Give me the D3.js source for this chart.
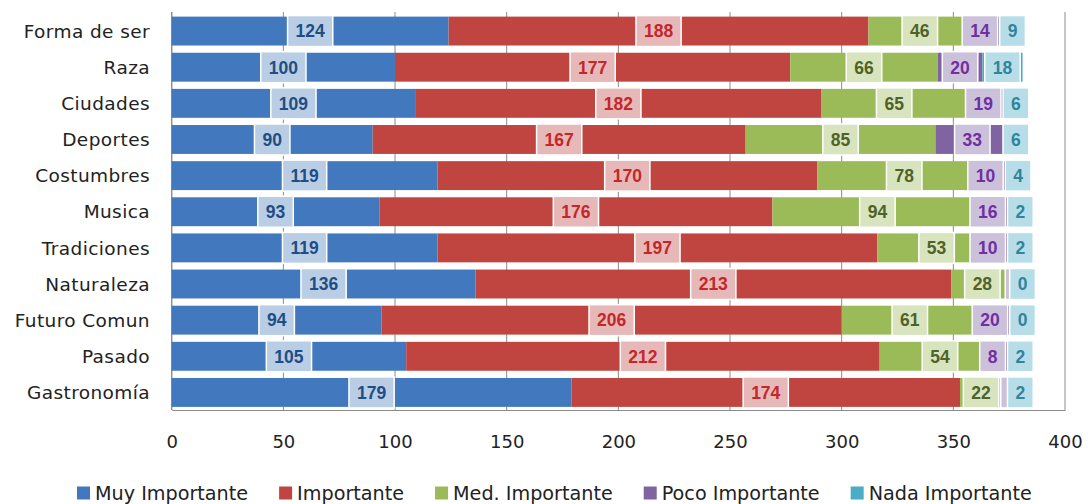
<!DOCTYPE html>
<html>
<head>
<meta charset="utf-8">
<script src="https://cdn.jsdelivr.net/npm/d3@7"></script>
<style>
  html, body { margin: 0; padding: 0; background: #ffffff; }
  svg { display: block; }
</style>
</head>
<body>
<svg id="chart" width="1088" height="504"></svg>
<script>
// Categories (top to bottom)
const categories = ["Forma de ser", "Raza", "Ciudades", "Deportes", "Costumbres", "Musica",
  "Tradiciones", "Naturaleza", "Futuro Comun", "Pasado", "Gastronomía"];

// Series values, one per category
const muyImportante  = [124, 100, 109, 90, 119, 93, 119, 136, 94, 105, 179];
const importante     = [188, 177, 182, 167, 170, 176, 197, 213, 206, 212, 174];
const medImportante  = [46, 66, 65, 85, 78, 94, 53, 28, 61, 54, 22];
const pocoImportante = [14, 20, 19, 33, 10, 16, 10, 4, 20, 8, 4];
const nadaImportante = [9, 18, 6, 6, 4, 2, 2, 0, 0, 2, 2];

const seriesNames = ["Muy Importante", "Importante", "Med. Importante", "Poco Importante", "Nada Importante"];
const xTicks = [0, 50, 100, 150, 200, 250, 300, 350, 400];

// Styling per series: bar fill, label box fill, label text colour
const barColors   = ["#4279be", "#c0443f", "#9bbb59", "#8064a2", "#4bacc6"];
const boxColors   = ["#b9cde5", "#e6b9b8", "#d7e4bd", "#ccc1da", "#b7dee8"];
const labelColors = ["#1f4e86", "#c4262b", "#4f6228", "#7030a0", "#31849b"];

const seriesValues = [muyImportante, importante, medImportante, pocoImportante, nadaImportante];

const rows = categories.map((c, i) => {
  const r = { cat: c };
  seriesNames.forEach((s, k) => { r[s] = seriesValues[k][i]; });
  return r;
});
const stacked = d3.stack().keys(seriesNames)(rows);

const svg = d3.select("#chart");
const plot = { left: 171.7, right: 1065, top: 12, bottom: 410 };

const x = d3.scaleLinear().domain([0, 400]).range([plot.left, plot.right]);
const y = d3.scaleBand().domain(categories).range([13, 410.5]).paddingInner(0.2).paddingOuter(0.1);

// Vertical gridlines
svg.append("g")
  .selectAll("line")
  .data(xTicks)
  .join("line")
  .attr("x1", d => x(d)).attr("x2", d => x(d))
  .attr("y1", plot.top).attr("y2", plot.bottom)
  .attr("stroke", "#8c8c8c").attr("stroke-width", 1);

// Left axis line
svg.append("line")
  .attr("x1", plot.left).attr("x2", plot.left)
  .attr("y1", plot.top).attr("y2", plot.bottom)
  .attr("stroke", "#8c8c8c").attr("stroke-width", 1.2);

// Bottom axis
const xAxis = svg.append("g")
  .attr("transform", `translate(0,${plot.bottom})`)
  .call(d3.axisBottom(x).tickValues(xTicks).tickSize(0).tickPadding(25));
xAxis.select(".domain").attr("stroke", "#8c8c8c").attr("stroke-width", 1.2);
xAxis.selectAll("text")
  .attr("font-family", "'DejaVu Sans', sans-serif")
  .attr("font-size", 18)
  .attr("fill", "#222");

// Category labels
svg.append("g")
  .selectAll("text")
  .data(categories)
  .join("text")
  .attr("x", 150)
  .attr("y", d => y(d) + y.bandwidth() / 2)
  .attr("dy", "0.36em")
  .attr("text-anchor", "end")
  .attr("font-family", "'DejaVu Sans', sans-serif")
  .attr("font-size", 18.5)
  .attr("letter-spacing", 0.4)
  .attr("fill", "#222")
  .text(d => d);

// Stacked bars
const layers = svg.append("g");
stacked.forEach((layer, k) => {
  layers.append("g")
    .attr("fill", barColors[k])
    .selectAll("rect")
    .data(layer)
    .join("rect")
    .attr("x", d => x(d[0]))
    .attr("y", d => y(d.data.cat))
    .attr("width", d => x(d[1]) - x(d[0]))
    .attr("height", y.bandwidth());
});

// Data labels: boxed values centred on each segment
const labelLayer = svg.append("g");
const boxH = 31;
const gap = 2;
const labelGroups = stacked.map(() => labelLayer.append("g"));

categories.forEach((cat, i) => {
  const cy = y(cat) + y.bandwidth() / 2;
  const items = stacked.map((layer, k) => {
    const d = layer[i];
    const g = labelGroups[k].append("g");
    const box = g.append("rect");
    const t = g.append("text")
      .attr("y", cy)
      .attr("dy", "0.36em")
      .attr("text-anchor", "middle")
      .attr("font-family", "'Liberation Sans', Arial, sans-serif")
      .attr("font-weight", "bold")
      .attr("font-size", 17.5)
      .attr("fill", labelColors[k])
      .text(d[1] - d[0]);
    const w = t.node().getComputedTextLength() + 16;
    return { k, box, t, w, cx: x((d[0] + d[1]) / 2) };
  });

  // Nudge a label leftwards when it would run into the one to its right,
  // unless that would push it into the label on its left.
  for (let k = items.length - 2; k >= 1; k--) {
    const cur = items[k], next = items[k + 1], prev = items[k - 1];
    const nextLeft = next.cx - next.w / 2;
    if (cur.cx + cur.w / 2 > nextLeft - gap) {
      const moved = nextLeft - gap - cur.w / 2;
      const prevRight = prev.cx + prev.w / 2;
      if (moved - cur.w / 2 >= prevRight + gap) cur.cx = moved;
    }
  }

  items.forEach(it => {
    it.t.attr("x", it.cx);
    it.box.attr("x", it.cx - it.w / 2).attr("y", cy - boxH / 2)
      .attr("width", it.w).attr("height", boxH)
      .attr("fill", boxColors[it.k])
      .attr("stroke", "#ffffff").attr("stroke-width", 1.5);
  });
});

// Legend
const legend = svg.append("g").attr("transform", "translate(0,493)");
let lx = 77;
seriesNames.forEach((name, k) => {
  legend.append("rect")
    .attr("x", lx).attr("y", -6.5)
    .attr("width", 13).attr("height", 13)
    .attr("fill", barColors[k]);
  const t = legend.append("text")
    .attr("x", lx + 18).attr("y", 0).attr("dy", "0.36em")
    .attr("font-family", "'DejaVu Sans', sans-serif")
    .attr("font-size", 19.2)
    .attr("fill", "#222")
    .text(name);
  lx += 18 + t.node().getComputedTextLength() + 31;
});
</script>
</body>
</html>
